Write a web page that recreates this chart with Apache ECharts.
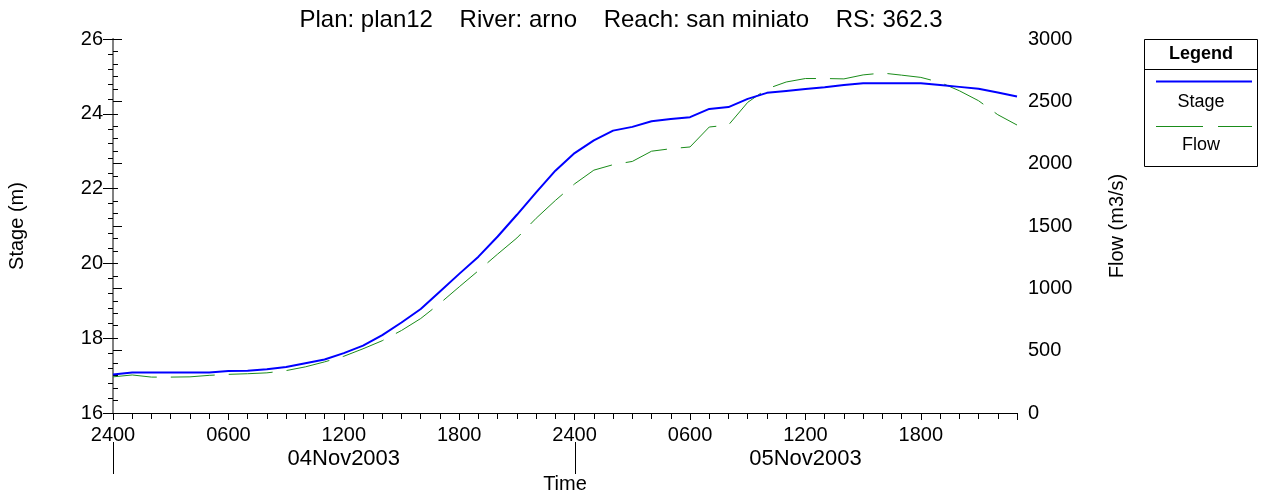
<!DOCTYPE html>
<html>
<head>
<meta charset="utf-8">
<script src="https://cdn.jsdelivr.net/npm/echarts@6/dist/echarts.min.js"></script>
<style>
html,body{margin:0;padding:0;background:#fff;}
#c{width:1268px;height:492px;}
</style>
</head>
<body>
<div id="c"></div>
<script>
// Hours since 04Nov2003 0000 (shown as "2400")
var hours = [0,1,2,3,4,5,6,7,8,9,10,11,12,13,14,15,16,17,18,19,20,21,22,23,
             24,25,26,27,28,29,30,31,32,33,34,35,36,37,38,39,40,41,42,43,44,45,46,47];
var stage = [17.03,17.08,17.08,17.08,17.08,17.08,17.12,17.13,17.17,17.23,17.33,17.43,
             17.60,17.80,18.08,18.42,18.78,19.25,19.72,20.18,20.72,21.30,21.90,22.48,
             22.95,23.29,23.55,23.65,23.80,23.86,23.91,24.13,24.18,24.40,24.56,24.61,
             24.66,24.71,24.77,24.82,24.82,24.82,24.82,24.77,24.72,24.67,24.57,24.46];
var flow = [290,305,288,288,290,302,310,315,322,340,370,410,
            455,515,580,662,758,880,1012,1142,1275,1404,1562,1705,
            1838,1948,1992,2018,2100,2120,2134,2294,2310,2492,2600,2655,
            2683,2683,2680,2712,2727,2710,2692,2652,2585,2505,2393,2310];
var timeTicks = [0,6,12,18,24,30,36,42];
var timeTickLabels = ['2400','0600','1200','1800','2400','0600','1200','1800'];
var dayPos = [12,36];
var dayLabels = ['04Nov2003','05Nov2003'];
var dayBounds = [0,24];
var titleText = 'Plan: plan12    River: arno    Reach: san miniato    RS: 362.3';

function pairs(xs, ys){ return xs.map(function(x,i){return [x, ys[i]];}); }

var FONT = 'Liberation Sans, Arial, sans-serif';
var chart = echarts.init(document.getElementById('c'), null, {renderer:'canvas'});
var option = {
  animation:false,
  backgroundColor:'#fff',
  textStyle:{fontFamily:FONT, color:'#000'},
  title:{
    text:titleText, left:616, top:3, textAlign:'center',
    textStyle:{fontFamily:FONT, fontSize:24, fontWeight:'normal', color:'#000'}
  },
  grid:{left:113, right:251, top:39, bottom:79, containLabel:false, outerBoundsMode:'none'},
  xAxis:[{
    type:'value', min:0, max:47, interval:6,
    axisLine:{show:true, onZero:false, lineStyle:{color:'#000', width:1}},
    axisTick:{show:true, length:7, lineStyle:{color:'#000'}},
    minorTick:{show:true, splitNumber:6, length:6, lineStyle:{color:'#000'}},
    splitLine:{show:false},
    axisLabel:{fontSize:20, color:'#000', fontFamily:FONT, margin:12, showMaxLabel:false,
      formatter:function(v){ var i=timeTicks.indexOf(v); return i>=0?timeTickLabels[i]:''; }}
  },{
    type:'value', min:0, max:47, position:'bottom', offset:29, gridIndex:0,
    name:'Time', nameLocation:'middle', nameGap:26,
    nameTextStyle:{fontSize:20, color:'#000', fontFamily:FONT},
    axisLine:{show:false},
    axisTick:{show:false},
    splitLine:{show:false},
    axisLabel:{show:true, customValues:dayPos, fontSize:22, color:'#000', fontFamily:FONT, margin:6,
      formatter:function(v){ var i=dayPos.indexOf(v); return i>=0?dayLabels[i]:''; }}
  }],
  yAxis:[{
    type:'value', min:16, max:26, interval:2, position:'left',
    name:'Stage (m)', nameLocation:'middle', nameGap:86, nameRotate:90,
    nameTextStyle:{fontSize:20, color:'#000', fontFamily:FONT},
    axisLine:{show:true, lineStyle:{color:'#000', width:1}},
    axisTick:{show:true, inside:false, length:10, lineStyle:{color:'#000'}},
    minorTick:{show:true, splitNumber:5, length:5, lineStyle:{color:'#000'}},
    splitLine:{show:false},
    axisLabel:{fontSize:20, color:'#000', fontFamily:FONT, margin:10}
  },{
    type:'value', min:0, max:3000, interval:500, position:'right',
    name:'Flow (m3/s)', nameLocation:'middle', nameGap:90, nameRotate:90,
    nameTextStyle:{fontSize:20, color:'#000', fontFamily:FONT},
    axisLine:{show:true, lineStyle:{color:'#808080', width:2}},
    axisTick:{show:true, inside:false, length:9, lineStyle:{color:'#000'}},
    minorTick:{show:true, splitNumber:5, length:5, lineStyle:{color:'#000'}},
    splitLine:{show:false},
    axisLabel:{fontSize:20, color:'#000', fontFamily:FONT, margin:11,
      formatter:function(v){ return String(v); }}
  }],
  series:[{
    name:'Stage', type:'line', xAxisIndex:0, yAxisIndex:0, showSymbol:false, symbol:'none',
    data:pairs(hours, stage),
    lineStyle:{color:'#0000ff', width:2}, z:3
  },{
    name:'Flow', type:'line', xAxisIndex:0, yAxisIndex:1, showSymbol:false, symbol:'none',
    data:pairs(hours, flow),
    lineStyle:{color:'#1a8c1a', width:1, type:[44,14]}, z:2
  }],
  graphic:[
    {id:'lgBox', type:'rect', shape:{x:1144.5, y:39.5, width:113, height:127}, style:{fill:'#fff', stroke:'#000', lineWidth:1}},
    {id:'lgSep', type:'line', shape:{x1:1144.5, y1:69.5, x2:1257.5, y2:69.5}, style:{stroke:'#000', lineWidth:1}},
    {id:'lgTitle', type:'text', x:1201, y:54, style:{text:'Legend', font:'bold 18px '+FONT, fill:'#000', textAlign:'center', textVerticalAlign:'middle'}},
    {id:'lgL1', type:'line', shape:{x1:1156, y1:81.5, x2:1252, y2:81.5}, style:{stroke:'#0000ff', lineWidth:2}},
    {id:'lgT1', type:'text', x:1201, y:102, style:{text:'Stage', font:'18px '+FONT, fill:'#000', textAlign:'center', textVerticalAlign:'middle'}},
    {id:'lgL2', type:'line', shape:{x1:1156, y1:126.5, x2:1252, y2:126.5}, style:{stroke:'#1a8c1a', lineWidth:1, lineDash:[47,15]}},
    {id:'lgT2', type:'text', x:1201, y:145, style:{text:'Flow', font:'18px '+FONT, fill:'#000', textAlign:'center', textVerticalAlign:'middle'}}
  ]
};
chart.setOption(option);
// day-boundary markers placed through the x axis scale
var extra = dayBounds.map(function(h, i){
  var px = Math.round(chart.convertToPixel({xAxisIndex:0}, h)) + 0.5;
  return {id:'dayB'+i, type:'line', shape:{x1:px, y1:442, x2:px, y2:474}, style:{stroke:'#000', lineWidth:1}};
});
chart.setOption({graphic:extra});
</script>
</body>
</html>
